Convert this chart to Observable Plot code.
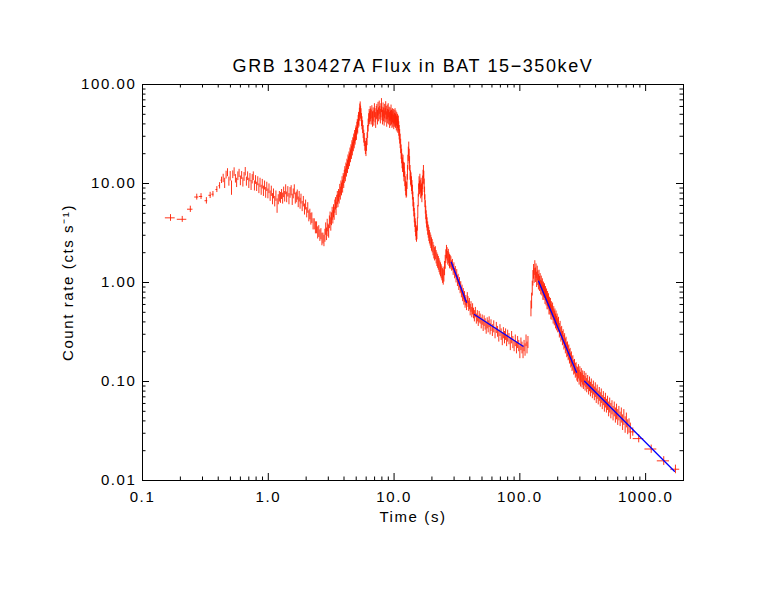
<!DOCTYPE html>
<html><head><meta charset="utf-8">
<script src="https://cdn.jsdelivr.net/npm/d3@7"></script>
<script src="https://cdn.jsdelivr.net/npm/@observablehq/plot@0.6"></script>
<style>
body{margin:0;background:#fff}
svg{display:block}
svg text{letter-spacing:1.6px}
</style>
</head><body><div id="chart"></div>
<script>
// [time s, rate cts/s, half error, half bin width]
const early = [
  [0.167,4.5,0.35,0.015],[0.207,4.35,0.3,0.018],[0.240,5.5,0.4,0.012],[0.270,7.3,0.5,0.010],
  [0.292,7.4,0.5,0.009],[0.322,6.7,0.5,0.008],[0.345,7.6,0.55,0.008],[0.363,7.8,0.5,0.007],
  [0.390,8.7,0.6,0.006],[0.410,9.5,0.7,0.005],[0.425,10.8,0.8,0.004]
];
const prompt1 = [
  [0.438,11.3,1.1],[0.45,10.1,1.2],[0.462,12.2,1.1],[0.474,12.9,1.2],[0.486,10.5,1.1],[0.498,11.9,1.3],
  [0.51,9.1,1.5],[0.522,12.3,1.1],[0.535,13.1,1.3],[0.548,11.2,1.1],[0.56,10.2,1.1],[0.573,11.9,1.2],
  [0.586,12.7,1.2],[0.6,10.7,1.2],[0.614,12.1,1.1],[0.628,10.3,1.1],[0.642,11.7,1.2],[0.656,13.2,1.3],
  [0.67,10.5,1.1],[0.685,11.9,1.2],[0.70,10.1,1.2],[0.715,11.5,1.1],[0.73,9.6,1.1],[0.745,11.1,1.2],
  [0.76,11.9,1.2],[0.776,9.5,1.1],[0.792,10.9,1.1],[0.808,9.3,1.0],[0.825,10.6,1.1],[0.842,8.9,1.0],
  [0.86,10.2,1.1],[0.878,8.6,1.0],[0.896,9.9,1.1],[0.915,8.4,1.0],[0.934,9.6,1.0],[0.953,8.1,1.0],
  [0.973,9.3,1.0],[0.993,7.9,0.9],[1.013,8.9,1.0],[1.035,7.5,0.9],[1.057,8.4,1.0],[1.08,7.0,0.9],
  [1.10,7.9,0.9],[1.125,6.6,0.8],[1.15,7.5,0.9],[1.175,6.0,1.0],[1.20,6.9,0.8],[1.225,7.4,0.9],
  [1.25,7.2,0.9],[1.275,7.8,0.9],[1.30,7.1,0.9],[1.325,8.2,1.0],[1.35,7.4,0.9],[1.375,8.7,1.0],
  [1.40,7.3,0.9],[1.43,8.3,1.0],[1.46,7.0,0.9],[1.49,8.1,1.0],[1.52,8.5,1.0],[1.55,6.9,0.9],
  [1.58,7.9,0.9],[1.61,8.7,1.0],[1.64,7.1,0.9],[1.67,7.3,0.9],[1.70,7.7,0.9],[1.73,6.5,0.8],
  [1.76,7.4,0.9],[1.79,6.3,0.8],[1.82,7.0,0.8],[1.86,5.9,0.7],[1.90,6.6,0.8],[1.94,5.5,0.7],
  [1.98,6.1,0.7],[2.02,5.1,0.6],[2.06,5.7,0.7],[2.10,4.7,0.6],[2.14,4.9,0.6],[2.18,4.4,0.6],
  [2.22,4.5,0.55],[2.27,3.9,0.5],[2.32,3.9,0.5],[2.37,3.6,0.5],[2.42,3.6,0.5],[2.47,3.2,0.45],
  [2.52,3.3,0.45],[2.57,3.0,0.4],[2.62,3.1,0.4],[2.67,2.75,0.4],[2.72,2.8,0.35],[2.77,2.65,0.35]
];
const prompt2 = [
  [2.82,3.0,0.45],[2.86,3.5,0.5],[2.90,3.1,0.45],[2.94,3.8,0.55],[2.98,3.4,0.5],[3.02,3.3,0.5],
  [3.06,4.1,0.6],[3.10,4.5,0.65],[3.14,3.9,0.6],[3.18,4.4,0.65],[3.22,5.0,0.75],[3.26,4.6,0.7],
  [3.30,5.3,0.8],[3.34,5.0,0.75],[3.38,5.9,0.9],[3.42,6.3,0.9],[3.46,5.6,0.85],[3.50,6.6,1.0],
  [3.54,7.2,1.1],[3.58,6.7,1.0],[3.62,7.6,1.1],[3.66,7.3,1.1],[3.70,8.5,1.3],[3.74,8.0,1.2],
  [3.78,9.2,1.4],[3.82,8.8,1.3],[3.86,10.2,1.5],[3.90,9.4,1.4],[3.94,11.0,1.6],[3.98,10.5,1.6],
  [4.02,11.8,1.8],[4.06,12.9,1.9],[4.10,12.2,1.8],[4.14,14.0,2.1],[4.18,13.6,2.0],[4.22,15.3,2.3],
  [4.26,14.8,2.2],[4.30,16.9,2.5],[4.34,16.2,2.4],[4.38,18.1,2.7],[4.42,17.4,2.6],[4.46,19.8,3.0],
  [4.50,19.0,2.8],[4.54,21.4,3.2],[4.58,20.6,3.1],[4.62,23.5,3.5],[4.66,22.4,3.4],[4.70,25.2,3.8],
  [4.74,24.6,3.7],[4.78,27.5,4.1],[4.82,26.4,4.0],[4.86,29.8,4.5],[4.90,28.7,4.3],[4.94,31.4,4.7],
  [4.98,33.2,5.0],[5.02,32.0,4.8],[5.06,36.1,5.4],[5.10,38.6,5.8],[5.14,37.2,5.6],[5.18,42.3,6.3],
  [5.22,45.5,6.8],[5.26,43.8,6.6],[5.30,50.1,7.5],[5.34,55.2,8.3],[5.38,58.0,8.7],[5.42,52.6,7.9],
  [5.46,49.5,7.4],[5.51,44.2,6.6],[5.56,41.0,6.2],[5.62,37.5,5.6],[5.68,33.4,5.0],[5.74,30.1,4.5],
  [5.80,27.8,4.2],[5.86,24.9,3.7],[5.92,23.1,3.5],[5.98,22.0,3.3],[6.04,24.8,3.7],[6.10,28.3,4.2],
  [6.16,33.5,5.0],[6.22,38.9,5.8],[6.28,44.1,6.6],[6.34,48.6,7.3],[6.40,46.2,6.9],[6.46,52.0,7.8],
  [6.52,49.3,7.4],
  [6.58,47,8],[6.66,53,8],[6.74,45,8],[6.82,50,8],[6.90,46,8],[6.98,55,9],[7.06,49,8],[7.14,44,8],
  [7.22,52,8],[7.30,54,9],[7.38,47,8],[7.46,57,9],[7.54,50,8],[7.62,59,9],[7.70,52,8],[7.78,48,8],
  [7.86,55,9],[7.94,62,10],[8.02,51,8],[8.10,47,8],[8.18,56,9],[8.26,50,8],[8.34,46,8],[8.42,54,9],
  [8.50,49,8],[8.58,58,9],[8.66,52,8],[8.74,45,8],[8.82,53,9],[8.90,48,8],[8.98,55,9],[9.06,47,8],
  [9.14,51,8],[9.22,44,8],[9.30,50,8],[9.38,46,8],[9.46,53,9],[9.54,47,8],[9.62,43,7],[9.70,49,8],
  [9.78,45,8],[9.86,48,8],[9.94,42,7],[10.02,47,8],[10.10,44,7],[10.18,49,8],[10.26,43,7],[10.34,46,8],
  [10.42,41,7],[10.50,45,7],[10.58,40,7],[10.66,43,7],[10.74,38,6],[10.82,41,7],[10.90,36,6]
];
const prompt3 = [
  [10.98,33,5.5],[11.08,30,5],[11.18,27,4.5],[11.28,24,4],[11.38,21,3.5],[11.48,19,3.2],
  [11.58,17,2.9],[11.68,15.5,2.6],[11.78,16.5,2.8],[11.88,14,2.4],[11.98,12.5,2.1],[12.08,13.8,2.3],
  [12.18,11.2,1.9],[12.28,10,1.7],[12.38,9,1.5],[12.48,8.5,1.4],[12.58,8.8,1.5],[12.68,10.5,1.8],
  [12.78,13,2.2],[12.88,16.5,2.8],[12.98,20,3.3],[13.08,22.5,3.7],[13.18,19,3.2],[13.28,16,2.7],
  [13.40,13,2.2],[13.52,11.5,1.9],[13.64,11,1.8],[13.76,10,1.7],[13.88,9.2,1.5],[14.00,8.2,1.4],
  [14.12,7.0,1.2],[14.24,6.2,1.0],[14.36,5.5,0.9],[14.48,4.8,0.8],[14.60,4.3,0.7],[14.72,3.8,0.6],
  [14.84,3.5,0.6],[14.96,3.2,0.55],[15.08,3.05,0.5],[15.2,3.2,0.5],[15.32,3.9,0.6],[15.44,5.2,0.8],
  [15.56,6.8,1.0],[15.68,8.6,1.3],[15.80,10.2,1.5],[15.92,9.1,1.4],[16.04,10.8,1.6],[16.16,9.4,1.4],
  [16.28,8.3,1.3],[16.40,9.8,1.5],[16.52,8.6,1.3],[16.64,7.6,1.2],[16.76,8.9,1.4],[16.88,10.3,1.6],
  [17.00,11.8,1.8],[17.12,13.2,2.0],[17.24,11.5,1.8],[17.36,9.6,1.5],[17.48,8.0,1.2],[17.60,6.7,1.0],
  [17.72,5.8,0.9],[17.86,5.1,0.8],[18.00,4.6,0.7],[18.15,4.2,0.65],[18.3,3.9,0.6],[18.5,3.55,0.55],
  [18.7,3.3,0.5],[18.9,3.1,0.5],[19.1,2.9,0.45],[19.35,2.75,0.42],[19.6,2.6,0.4],[19.85,2.45,0.38],
  [20.1,2.35,0.36],[20.4,2.2,0.34],[20.7,2.05,0.32],[21.0,1.95,0.3],[21.3,2.0,0.3],[21.6,1.82,0.28],
  [21.9,1.72,0.27],[22.2,1.65,0.26],[22.5,1.58,0.25],[22.8,1.5,0.24],[23.1,1.42,0.23],[23.4,1.36,0.22],
  [23.7,1.3,0.21],[24.0,1.24,0.2],[24.3,1.18,0.2],[24.6,1.14,0.2],[24.9,1.22,0.21],[25.2,1.4,0.23],
  [25.5,1.62,0.26],[25.8,1.85,0.29],[26.1,2.05,0.32],[26.4,1.95,0.3],[26.7,1.78,0.28],[27.0,1.86,0.3],
  [27.3,1.72,0.27],[27.6,1.65,0.26],[27.9,1.62,0.26]
];
const decay1 = [
  [28.3,1.62,0.2],[28.7,1.48,0.18],[29.1,1.52,0.19],[29.5,1.35,0.17],[29.9,1.41,0.17],[30.3,1.24,0.15],
  [30.7,1.29,0.16],[31.1,1.13,0.14],[31.5,1.2,0.15],[31.9,1.04,0.13],[32.3,1.08,0.13],[32.7,0.95,0.12],
  [33.1,1.0,0.12],[33.5,0.88,0.11],[33.9,0.91,0.11],[34.3,0.8,0.1],[34.7,0.84,0.1],[35.1,0.73,0.09],
  [35.5,0.77,0.1],[35.9,0.68,0.09],[36.3,0.72,0.09],[36.7,0.63,0.08],[37.2,0.66,0.08],[37.7,0.59,0.07],
  [38.2,0.7,0.09],[38.7,0.64,0.08],[39.2,0.58,0.07],[39.7,0.61,0.08],[40.3,0.53,0.07],[40.9,0.57,0.07],
  [41.5,0.5,0.06],[42.1,0.54,0.07],[42.8,0.49,0.06],[43.5,0.46,0.06],[44.3,0.5,0.06],[45.1,0.43,0.05],
  [45.9,0.46,0.06],[46.7,0.41,0.05],[47.5,0.45,0.06],[48.4,0.43,0.05],[49.3,0.39,0.05],[50.2,0.42,0.05],
  [51.1,0.37,0.05],[52.0,0.41,0.05],[53.0,0.38,0.05],[54.0,0.35,0.05],[55.0,0.39,0.05],[56.0,0.36,0.05],
  [57.0,0.4,0.05],[58.0,0.34,0.045],[59.0,0.37,0.05],[60.5,0.33,0.045],[62.0,0.36,0.05],[63.5,0.31,0.04],
  [65.0,0.35,0.045],[66.5,0.32,0.04],[68.0,0.29,0.04],[69.5,0.33,0.045],[71.0,0.3,0.04],[72.5,0.27,0.04],
  [74.0,0.31,0.04],[75.5,0.28,0.04],[77.0,0.3,0.04],[78.5,0.26,0.035],[80.0,0.29,0.04],[82.0,0.27,0.035],
  [84.0,0.24,0.035],[86.0,0.28,0.04],[88.0,0.25,0.035],[90.0,0.23,0.03],[92.0,0.26,0.035],[94.0,0.22,0.03],
  [96.0,0.25,0.035],[98.0,0.23,0.03],[100,0.2,0.03],[102,0.24,0.035],[104,0.22,0.03],[106,0.2,0.03],
  [108,0.23,0.03],[110,0.21,0.03],[112,0.26,0.035],[114,0.22,0.03],[116,0.25,0.035]
];
const flare = [
  [122.5,0.55,0.1],[124,0.66,0.12],[125.5,0.88,0.15],[127,1.12,0.2],[128.5,1.3,0.22],[130,1.18,0.2],
  [131.5,1.42,0.24],[133,1.2,0.2],[134.5,1.32,0.22],[136,1.08,0.19],[137.5,1.25,0.21],[139,1.12,0.19],
  [140.5,1.02,0.18],[142,1.14,0.19],[143.5,0.98,0.17],[145,1.05,0.18],[146.5,0.9,0.15],[148,0.99,0.17],
  [149.5,0.88,0.15],[151,0.93,0.16],[152.5,0.8,0.14],[154,0.86,0.15],[155.5,0.79,0.13],[157,0.83,0.14],
  [158.5,0.72,0.12],[160,0.78,0.13],[161.5,0.7,0.12],[163,0.74,0.12],[164.5,0.64,0.11],[166,0.69,0.12],
  [167.5,0.63,0.1],[169,0.66,0.11],[170.5,0.57,0.1],[172,0.61,0.1],[173.5,0.56,0.09],[175,0.59,0.1],
  [176.5,0.51,0.09],[178,0.55,0.09],[180,0.5,0.085],[182,0.53,0.09],[184,0.46,0.08],[186,0.49,0.08],
  [188,0.44,0.075],[190,0.46,0.08],[192,0.41,0.07],[194,0.44,0.075],[196,0.39,0.065],[198,0.41,0.07],
  [200,0.37,0.06],[203,0.38,0.065],[206,0.33,0.055],[209,0.345,0.06],[212,0.3,0.05],[215,0.31,0.05],
  [218,0.275,0.045],[221,0.285,0.048],[224,0.25,0.042],[227,0.26,0.044],[230,0.23,0.04],[233,0.24,0.04],
  [236,0.21,0.036],[239,0.215,0.036],[242,0.195,0.033],[245,0.2,0.034],[248,0.18,0.03],[251,0.185,0.031],
  [254,0.165,0.028],[257,0.17,0.029],[260,0.152,0.026],[264,0.156,0.026],[268,0.14,0.024],[272,0.143,0.024],
  [276,0.13,0.022],[280,0.133,0.022],[284,0.121,0.02]
];
const tail = [
  [288,0.118,0.02],[292,0.127,0.021],[296,0.111,0.019],[300,0.121,0.02],[304,0.106,0.018],[308,0.116,0.019],
  [312,0.103,0.017],[316,0.11,0.018],[320,0.099,0.016],[325,0.108,0.018],[330,0.096,0.016],[335,0.104,0.017],
  [340,0.092,0.015],[346,0.099,0.016],[352,0.087,0.014],[358,0.095,0.016],[364,0.084,0.014],[370,0.091,0.015],
  [377,0.08,0.013],[384,0.087,0.014],[391,0.076,0.012],[398,0.083,0.014],[405,0.072,0.012],[412,0.079,0.013],
  [420,0.069,0.011],[428,0.075,0.012],[436,0.066,0.011],[444,0.072,0.012],[452,0.062,0.01],[461,0.068,0.011],
  [470,0.059,0.01],[479,0.065,0.011],[488,0.057,0.009],[498,0.061,0.01],[508,0.053,0.009],[518,0.058,0.01],
  [529,0.051,0.009],[540,0.055,0.009],[551,0.048,0.008],[563,0.053,0.009],[575,0.046,0.008],[587,0.05,0.009],
  [600,0.044,0.008],[613,0.048,0.008],[627,0.042,0.007],[641,0.046,0.008],[656,0.039,0.007],[671,0.044,0.008],
  [687,0.037,0.007],[703,0.041,0.007],[720,0.035,0.006],[738,0.036,0.006],[756,0.032,0.006]
];
const lateBins = [
  [790,0.031,0.003,35],[881,0.0265,0.0025,85],[1107,0.0208,0.002,120],[1393,0.0158,0.0016,155],[1726,0.013,0.0013,140]
];
// power-law fits: [time, rate] endpoints
const fit1 = [[28.5,1.60],[37.6,0.632]];
const fit2 = [[43.5,0.475],[106,0.227]];
const fit3 = [[141,1.03],[282,0.124]];
const fit4 = [[327,0.1007],[1694,0.0124]];

const xMajor = [0.1,1,10,100,1000];
const xMinor = [0.2,0.3,0.4,0.5,0.6,0.7,0.8,0.9,2,3,4,5,6,7,8,9,20,30,40,50,60,70,80,90,200,300,400,500,600,700,800,900];
const yMajor = [0.01,0.1,1,10,100];
const yMinor = [0.02,0.03,0.04,0.05,0.06,0.07,0.08,0.09,0.2,0.3,0.4,0.5,0.6,0.7,0.8,0.9,2,3,4,5,6,7,8,9,20,30,40,50,60,70,80,90];
const title = "GRB 130427A Flux in BAT 15\u2212350keV";
const xLabel = "Time (s)";
const yLabel = "Count rate (cts s\u207B\u00B9)";

const rows = [...early, ...prompt1, ...prompt2, ...prompt3, ...decay1, ...flare, ...tail, ...lateBins]
  .map(([t, c, e, dt]) => ({t, c, lo: c - e, hi: c + e, dt: dt || 0}));
const binned = rows.filter(d => d.dt > 0);
const fits = [fit1, fit2, fit3, fit4].flatMap((f, i) => f.map(([t, c]) => ({t, c, k: i})));

const W = 763, H = 590, ML = 142, MR = 80, MT = 84, MB = 110;
const FH = H - MT - MB, FW = W - ML - MR;
const RED = "#ff1e00", BLUE = "#0000ff";
const MAJ = 7, MIN = 3.5;

const chart = Plot.plot({
  width: W, height: H,
  marginLeft: ML, marginRight: MR, marginTop: MT, marginBottom: MB,
  x: {type: "log", domain: [0.1, 2000], axis: null},
  y: {type: "log", domain: [0.01, 100], axis: null},
  style: {fontFamily: "'Liberation Sans', Arial, sans-serif", fontSize: "15px", background: "white", color: "black"},
  marks: [
    Plot.ruleX(rows, {x: "t", y1: "lo", y2: "hi", stroke: RED, strokeWidth: 1, strokeOpacity: 0.9, clip: true}),
    Plot.ruleY(binned, {y: "c", x1: d => d.t - d.dt, x2: d => d.t + d.dt, stroke: RED, strokeWidth: 1, strokeOpacity: 0.9, clip: true}),
    Plot.line(fits, {x: "t", y: "c", z: "k", stroke: BLUE, strokeWidth: 1.3}),
    Plot.tickX(xMajor, {x: d => d, insetTop: FH - MAJ, stroke: "black"}),
    Plot.tickX(xMinor, {x: d => d, insetTop: FH - MIN, stroke: "black"}),
    Plot.tickX(xMajor, {x: d => d, insetBottom: FH - MAJ, stroke: "black"}),
    Plot.tickX(xMinor, {x: d => d, insetBottom: FH - MIN, stroke: "black"}),
    Plot.tickY(yMajor, {y: d => d, insetRight: FW - MAJ, stroke: "black"}),
    Plot.tickY(yMinor, {y: d => d, insetRight: FW - MIN, stroke: "black"}),
    Plot.tickY(yMajor, {y: d => d, insetLeft: FW - MAJ, stroke: "black"}),
    Plot.tickY(yMinor, {y: d => d, insetLeft: FW - MIN, stroke: "black"}),
    Plot.frame({stroke: "black", strokeWidth: 1}),
    Plot.text(xMajor, {x: d => d, frameAnchor: "bottom", lineAnchor: "middle", dy: 17, text: d3.format(".1f"), fontSize: 15}),
    Plot.text(yMajor, {y: d => d, frameAnchor: "left", dx: -6, textAnchor: "end", text: d3.format(".2f"), fontSize: 15}),
    Plot.text([xLabel], {frameAnchor: "bottom", lineAnchor: "middle", dy: 37, text: d => d, fontSize: 15}),
    Plot.text([yLabel], {frameAnchor: "left", textAnchor: "middle", lineAnchor: "middle", dx: -74, rotate: -90, text: d => d, fontSize: 15}),
    Plot.text([title], {frameAnchor: "top", lineAnchor: "middle", dy: -18, text: d => d, fontSize: 18})
  ]
});
document.getElementById("chart").append(chart);
</script>
</body></html>
